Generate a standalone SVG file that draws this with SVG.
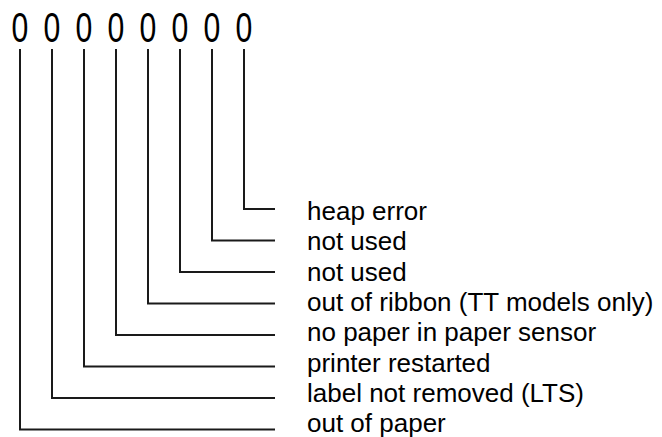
<svg xmlns="http://www.w3.org/2000/svg" width="662" height="437" viewBox="0 0 662 437">
  <style>
    .bit { font-family: "Liberation Sans", Arial, sans-serif; font-size: 42px; fill: #000; text-anchor: middle; }
    .lbl { font-family: "Liberation Sans", Arial, sans-serif; font-size: 26px; fill: #000; }
    .wire { fill: none; stroke: #1a1a1a; stroke-width: 2; }
  </style>
  <rect width="662" height="437" fill="#fff"/>

  <!-- status bits, drawn narrow -->
  <g id="bits" transform="scale(0.72,1)">
    <text class="bit" x="27.8" y="42">0</text>
    <text class="bit" x="72.2" y="42">0</text>
    <text class="bit" x="116.7" y="42">0</text>
    <text class="bit" x="161.1" y="42">0</text>
    <text class="bit" x="205.6" y="42">0</text>
    <text class="bit" x="250" y="42">0</text>
    <text class="bit" x="294.4" y="42">0</text>
    <text class="bit" x="338.9" y="42">0</text>
  </g>

  <!-- leader lines from each bit to its label -->
  <g id="connectors">
    <path class="wire" d="M244 49 V209 H275"/>
    <path class="wire" d="M212 49 V240.5 H275"/>
    <path class="wire" d="M180 49 V272 H275"/>
    <path class="wire" d="M148 49 V303.5 H275"/>
    <path class="wire" d="M116 49 V335 H275"/>
    <path class="wire" d="M84 49 V366.5 H275"/>
    <path class="wire" d="M52 49 V398 H275"/>
    <path class="wire" d="M20 49 V429.5 H275"/>
  </g>

  <g id="label-heap-error"><text class="lbl" x="307" y="220">heap error</text></g>
  <g id="label-not-used-1"><text class="lbl" x="307" y="250.3">not used</text></g>
  <g id="label-not-used-2"><text class="lbl" x="307" y="280.6">not used</text></g>
  <g id="label-out-of-ribbon"><text class="lbl" x="307" y="310.9">out of ribbon (TT models only)</text></g>
  <g id="label-no-paper"><text class="lbl" x="307" y="341.2">no paper in paper sensor</text></g>
  <g id="label-printer-restarted"><text class="lbl" x="307" y="371.5">printer restarted</text></g>
  <g id="label-label-not-removed"><text class="lbl" x="307" y="401.8">label not removed (LTS)</text></g>
  <g id="label-out-of-paper"><text class="lbl" x="307" y="432">out of paper</text></g>
</svg>
